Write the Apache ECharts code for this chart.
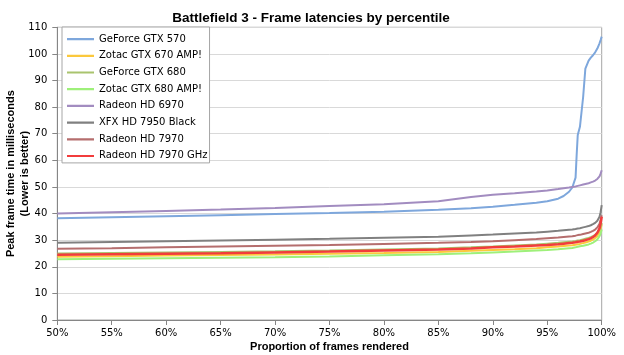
<!DOCTYPE html>
<html>
<head>
<meta charset="utf-8">
<script src="https://cdn.jsdelivr.net/npm/echarts@6/dist/echarts.min.js"></script>
<style>html,body{margin:0;padding:0;background:#fff}#c{width:624px;height:355px}</style>
</head>
<body>
<div id="c"></div>
<script>
const percentiles = [50,55,60,65,70,75,80,85,88,90,92,94,95,96,96.5,97,97.3,97.6,97.7,97.8,98,98.3,98.5,98.8,99,99.2,99.4,99.6,99.8,99.9,100];
const seriesNames = ["GeForce GTX 570","Zotac GTX 670 AMP!","GeForce GTX 680","Zotac GTX 680 AMP!","Radeon HD 6970","XFX HD 7950 Black","Radeon HD 7970","Radeon HD 7970 GHz"];
const gtx570 = [38.2,38.6,39.0,39.4,39.8,40.2,40.7,41.4,42.0,42.6,43.3,44.1,44.6,45.6,46.6,48.2,49.8,53.5,62,69.5,72.6,84,94.5,97.5,98.6,99.5,100.6,102,104,105.2,106.5];
const zotac670 = [23.8,24.0,24.2,24.4,24.6,24.9,25.2,25.6,26.0,26.3,26.6,27.0,27.3,27.6,27.8,28.0,28.1,28.3,28.4,28.5,28.6,28.9,29.1,29.5,29.8,30.2,30.8,31.6,33.0,34.3,36.0];
const gtx680 = [25.0,25.2,25.4,25.6,25.8,26.1,26.5,26.9,27.3,27.6,28.0,28.4,28.7,29.0,29.2,29.4,29.5,29.7,29.8,29.9,30.0,30.3,30.5,30.8,31.1,31.5,32.0,32.8,34.0,35.0,36.5];
const zotac680 = [22.8,23.0,23.2,23.4,23.6,23.9,24.3,24.7,25.1,25.4,25.7,26.1,26.3,26.6,26.8,27.0,27.1,27.3,27.4,27.5,27.7,27.9,28.1,28.4,28.7,29.1,29.6,30.3,31.5,32.5,34.0];
const hd6970 = [40.0,40.5,41.0,41.5,42.1,42.8,43.5,44.6,46.2,47.1,47.6,48.3,48.7,49.2,49.5,49.8,50.0,50.2,50.3,50.4,50.6,50.9,51.1,51.4,51.7,52.0,52.4,53.0,54.0,55.0,56.3];
const hd7950 = [29.0,29.3,29.6,29.9,30.2,30.5,30.9,31.3,31.8,32.1,32.5,32.9,33.2,33.5,33.7,33.9,34.0,34.2,34.3,34.4,34.5,34.8,35.0,35.3,35.6,36.0,36.5,37.3,38.8,40.5,43.2];
const hd7970 = [26.8,27.0,27.3,27.6,27.9,28.2,28.6,29.0,29.3,29.6,30.0,30.4,30.7,31.0,31.2,31.4,31.5,31.7,31.8,31.9,32.0,32.3,32.5,32.8,33.1,33.5,34.0,34.8,36.2,37.6,39.4];
const hd7970ghz = [24.5,24.7,24.9,25.1,25.4,25.7,26.1,26.5,26.9,27.3,27.6,28.0,28.2,28.5,28.7,28.9,29.0,29.2,29.3,29.4,29.5,29.8,30.0,30.4,30.7,31.2,31.8,32.8,34.5,36.3,38.8];
const allValues = [gtx570, zotac670, gtx680, zotac680, hd6970, hd7950, hd7970, hd7970ghz];
const colors = ["#7ea7dc","#fbc83c","#a9c46e","#9ef07a","#a28cc0","#808080","#b56e6e","#f23c3c"];
const widths = [2,2,2,2,2,2,2,2.5];

const chart = echarts.init(document.getElementById('c'));
const font = "DejaVu Sans";
const boldFont = "Liberation Sans";
const lineIcon = 'path://M0,0L0.01,0L0,0.01Z M0,6L27,6L27,8.2L0,8.2Z M27,14L26.99,14L27,13.99Z';
chart.setOption({
  animation: false,
  backgroundColor: '#fff',
  title: {
    text: 'Battlefield 3 - Frame latencies by percentile',
    left: 306, textAlign: 'center', top: 6,
    textStyle: {fontFamily: boldFont, fontWeight: 'bold', fontSize: 13.5, color: '#000'}
  },
  legend: {
    orient: 'vertical', left: 62, top: 27,
    padding: [5, 2, 0, 5], itemGap: 2.7, itemWidth: 27, itemHeight: 14,
    icon: lineIcon,
    borderColor: '#a6a6a6', borderWidth: 1, backgroundColor: '#fff',
    textStyle: {fontFamily: font, fontSize: 10, color: '#000'},
    data: seriesNames
  },
  grid: {left: 57.3, right: 22.3, top: 27.3, bottom: 35, show: true, borderColor: '#a6a6a6', borderWidth: 1, containLabel: false, outerBoundsMode: 'none'},
  xAxis: {
    type: 'value', min: 50, max: 100, interval: 5,
    name: 'Proportion of frames rendered', nameLocation: 'middle', nameGap: 21,
    nameMoveOverlap: false,
    nameTextStyle: {fontFamily: boldFont, fontWeight: 'bold', fontSize: 11, color: '#000'},
    axisLine: {lineStyle: {color: '#868686'}},
    axisTick: {show: true, length: 5, lineStyle: {color: '#868686'}},
    axisLabel: {formatter: '{value}%', fontFamily: font, fontSize: 10, color: '#000', margin: 8},
    splitLine: {show: false}
  },
  yAxis: {
    type: 'value', min: 0, max: 110, interval: 10,
    name: 'Peak frame time in milliseconds\n(Lower is better)', nameLocation: 'middle', nameGap: 25,
    nameMoveOverlap: false,
    nameTextStyle: {fontFamily: boldFont, fontWeight: 'bold', fontSize: 11, color: '#000', lineHeight: 14},
    axisLine: {show: true, lineStyle: {color: '#868686'}},
    axisTick: {show: true, length: 5, lineStyle: {color: '#868686'}},
    axisLabel: {fontFamily: font, fontSize: 10, color: '#000', margin: 10},
    splitLine: {lineStyle: {color: '#d9d9d9'}}
  },
  series: seriesNames.map((n, i) => ({
    name: n, type: 'line', symbol: 'none', showSymbol: false,
    color: colors[i],
    lineStyle: {width: widths[i], color: colors[i]},
    data: percentiles.map((p, j) => [p, allValues[i][j]])
  }))
});
</script>
</body>
</html>
